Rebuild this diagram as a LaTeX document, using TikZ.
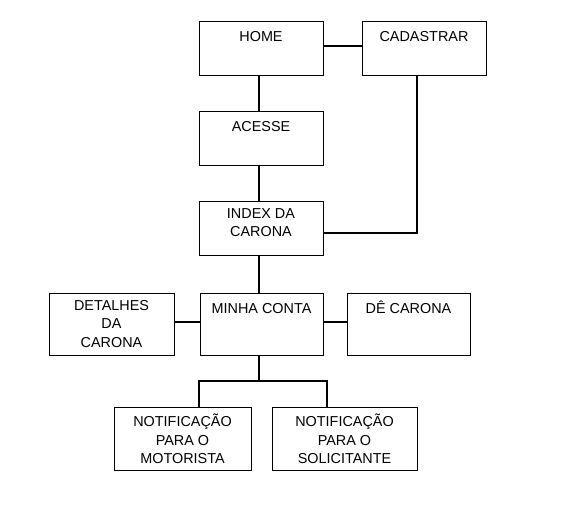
\documentclass[tikz,border=0pt]{standalone}
\usepackage{fontspec}
\setmainfont{Liberation Sans}
\usepackage{tikz}
\tikzset{caixa/.style = {draw, line width = 0.8, inner sep = 0, minimum height = 54},
  rotulo/.style = {anchor = north, yshift = -7.3pt, align = center, inner sep = 0,
    font = \fontsize{14.4}{18.5}\selectfont, execute at begin node = \rule{0pt}{13pt}},
  liga/.style = {line width = 1.5}}

\begin{document}
\begin{tikzpicture}[x = 1pt, y = -1pt]
    \useasboundingbox (0, 0) rectangle (579, 519);

    \node [caixa, minimum width = 124, label = {[rotulo]north:HOME}] (home) at (261, 48) {};
    \node [caixa, minimum width = 124, label = {[rotulo]north:CADASTRAR}] (cadastrar) at (424, 48) {};
    \node [caixa, minimum width = 124, label = {[rotulo]north:ACESSE}] (acesse) at (261, 138) {};
    \node [caixa, minimum width = 124, label = {[rotulo]north:INDEX DA\\CARONA}] (index) at (261, 228) {};

    \node [caixa, minimum width = 125, minimum height = 62,
      label = {[rotulo]north:DETALHES\\DA\\CARONA}] (detalhes) at (111.5, 324) {};
    \node [caixa, minimum width = 123, minimum height = 62,
      label = {[rotulo]north:MINHA CONTA}] (minha) at (261.5, 324) {};
    \node [caixa, minimum width = 123, minimum height = 62,
      label = {[rotulo]north:DÊ CARONA}] (decarona) at (408.5, 324) {};

    \node [caixa, minimum width = 137, minimum height = 63,
      label = {[rotulo]north:NOTIFICAÇÃO\\PARA O\\MOTORISTA}] (motorista) at (182.5, 438.5) {};
    \node [caixa, minimum width = 145, minimum height = 63,
      label = {[rotulo]north:NOTIFICAÇÃO\\PARA O\\SOLICITANTE}] (solicitante) at (344.5, 438.5) {};

    \draw [liga] ([yshift = 2pt]home.east) -- ([yshift = 2pt]cadastrar.west);
    \draw [liga] ([xshift = -2pt]home.south) -- ([xshift = -2pt]acesse.north);
    \draw [liga] ([xshift = -2pt]acesse.south) -- ([xshift = -2pt]index.north);
    \draw [liga] ([xshift = -7pt]cadastrar.south) |- ([yshift = -5pt]index.east);
    \draw [liga] ([xshift = -2pt]index.south) -- ([xshift = -2.5pt]minha.north);

    \draw [liga] ([yshift = 2pt]detalhes.east) -- ([yshift = 2pt]minha.west);
    \draw [liga] ([yshift = 2pt]minha.east) -- ([yshift = 2pt]decarona.west);

    \coordinate (ramo) at (259, 381);
    \draw [liga] ([xshift = -2.5pt]minha.south) -- (ramo);
    \draw [liga] ([xshift = 16.5pt]motorista.north) |- (ramo) -| ([xshift = -17.5pt]solicitante.north);
\end{tikzpicture}
\end{document}
